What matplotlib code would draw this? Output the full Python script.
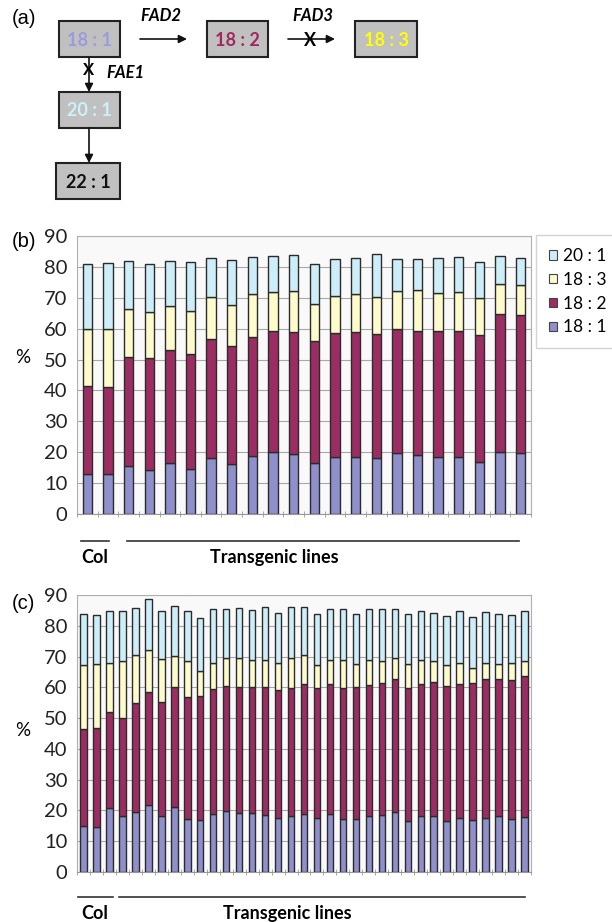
import matplotlib
matplotlib.use('Agg')
import matplotlib.pyplot as plt
from matplotlib.patches import Rectangle, Patch
import numpy as np

# panel (b) values, %
b_181 = [13.1, 12.8, 15.7, 14.4, 16.4, 14.7, 18.2, 16.1, 18.7, 20.2, 19.3,
         16.4, 18.3, 18.3, 18.0, 19.7, 19.1, 18.3, 18.3, 16.7, 20.2, 19.7]
b_182 = [28.3, 28.2, 35.2, 36.2, 36.6, 37.2, 38.3, 38.4, 38.7, 39.0, 39.5,
         39.5, 40.2, 40.5, 40.4, 40.3, 40.3, 40.8, 40.8, 41.4, 44.5, 44.7]
b_183 = [18.6, 19.0, 15.5, 14.7, 14.2, 13.9, 13.6, 13.0, 13.7, 12.8, 13.5,
         12.0, 12.2, 12.5, 11.7, 12.1, 13.2, 12.3, 12.7, 11.7, 9.7, 9.7]
b_201 = [20.9, 21.3, 15.6, 15.6, 14.8, 15.9, 12.9, 14.8, 12.2, 11.6, 11.5,
         13.0, 11.9, 11.7, 14.0, 10.6, 10.0, 11.6, 11.5, 11.7, 9.2, 8.9]

# panel (c) values, %
c_181 = [15.1, 14.6, 20.8, 18.1, 19.5, 21.8, 18.1, 21.1, 17.2, 16.8, 19.0, 19.8,
         19.1, 19.1, 18.5, 17.6, 18.2, 18.8, 17.7, 19.0, 17.2, 17.1, 18.1, 18.5,
         19.6, 16.6, 18.2, 18.2, 16.6, 17.5, 16.9, 17.7, 18.1, 17.2, 17.8]
c_182 = [31.2, 32.1, 31.2, 31.9, 35.4, 36.7, 37.2, 38.9, 39.6, 40.5, 40.3, 40.5,
         40.9, 40.9, 41.5, 41.4, 41.6, 42.2, 42.0, 42.2, 42.6, 42.9, 42.5, 42.8,
         43.1, 43.2, 42.9, 43.5, 43.7, 43.7, 44.6, 45.0, 44.7, 45.3, 45.9]
c_183 = [21.1, 20.8, 15.8, 18.5, 15.6, 13.7, 13.9, 10.2, 11.6, 7.9, 8.6, 9.3,
         9.4, 8.9, 8.9, 8.9, 9.6, 9.5, 7.5, 7.8, 9.2, 7.5, 8.4, 7.1,
         6.7, 7.9, 7.7, 6.7, 6.9, 6.8, 4.7, 5.1, 4.7, 5.3, 4.8]
c_201 = [16.3, 15.9, 17.1, 16.4, 15.4, 16.4, 15.7, 16.1, 16.3, 17.3, 17.6, 15.9,
         16.4, 16.3, 17.2, 16.4, 16.8, 15.7, 16.5, 16.4, 16.4, 16.2, 16.6, 17.0,
         16.0, 16.0, 16.1, 15.7, 15.9, 16.7, 16.6, 16.8, 16.2, 15.7, 16.2]

names = ['18 : 1', '18 : 2', '18 : 3', '20 : 1']
colors = ['#8f8fcb', '#9b2d62', '#fdfbcc', '#cdeef8']

plt.rcParams['font.family'] = ['Lato', 'DejaVu Sans']

W, H = 612, 922
fig = plt.figure(figsize=(W / 100, H / 100), dpi=100)

# overlay in pixel coords for the pathway diagram and the group labels
ov = fig.add_axes([0, 0, 1, 1])
ov.set_xlim(0, W)
ov.set_ylim(H, 0)
ov.axis('off')
ov.patch.set_alpha(0)

# (a) diagram
boxes = [(59, 21, 61, 36, '18 : 1', '#9b9bdc'),
         (207, 21, 61, 36, '18 : 2', '#a3275f'),
         (355, 21, 62, 36, '18 : 3', '#ffff00'),
         (59, 92, 61, 36, '20 : 1', '#cdf0fb'),
         (56, 163, 64, 36, '22 : 1', '#111111')]
for x, y, w, h, t, tc in boxes:
    ov.add_patch(Rectangle((x, y), w, h, facecolor='#c0c0c0', edgecolor='#222222', lw=1.5))
    ov.text(x + w / 2, y + h / 2 + 1, t, color=tc, fontsize=13, fontweight='bold',
            ha='center', va='center')

ap = dict(arrowstyle='-|>', color='#111111', lw=1.2, mutation_scale=12, shrinkA=0, shrinkB=0)
ov.annotate('', xy=(187, 39), xytext=(140, 39), arrowprops=ap)
ov.annotate('', xy=(335, 39), xytext=(288, 39), arrowprops=ap)
ov.annotate('', xy=(89, 92), xytext=(89, 57), arrowprops=ap)
ov.annotate('', xy=(89, 163), xytext=(89, 128), arrowprops=ap)
ov.text(310, 40, 'X', fontsize=13, fontweight='bold', ha='center', va='center')
ov.text(89, 70, 'X', fontsize=12, fontweight='bold', ha='center', va='center')
ov.text(161, 16, 'FAD2', fontsize=12, fontweight='bold', fontstyle='italic', ha='center', va='center')
ov.text(313, 16, 'FAD3', fontsize=12, fontweight='bold', fontstyle='italic', ha='center', va='center')
ov.text(106, 73, 'FAE1', fontsize=12, fontweight='bold', fontstyle='italic', ha='left', va='center')
ov.text(12, 19, '(a)', fontsize=14.5, family='Liberation Sans', ha='left', va='center')


def stacked(ax, data, width):
    x = np.arange(len(data[0]))
    bottom = np.zeros(len(x))
    for vals, col in zip(data, colors):
        ax.bar(x, vals, width, bottom=bottom, color=col, edgecolor='#2b2b2b', lw=1.0, zorder=3)
        bottom = bottom + np.array(vals)
    ax.set_xlim(-0.5, len(x) - 0.5)
    ax.set_ylim(0, 90)
    ax.set_yticks(range(0, 91, 10))
    ax.set_facecolor('#f9f9f9')
    ax.grid(axis='y', color='#a8a8a8', lw=0.8, zorder=0)
    ax.set_xticks([])
    ax.set_xticks(np.arange(-0.5, len(x)), minor=True)
    ax.tick_params(axis='x', which='minor', direction='inout', length=5, color='#999999')
    ax.tick_params(axis='y', length=0, labelsize=14.5, pad=7, colors='#222222')
    for s in ['top', 'right', 'left']:
        ax.spines[s].set_color('#b0b0b0')
    ax.spines['bottom'].set_color('#999999')


axb = fig.add_axes([77 / W, 1 - 514 / H, 454 / W, 278 / H])
stacked(axb, [b_181, b_182, b_183, b_201], 0.45)
axc = fig.add_axes([77 / W, 1 - 872 / H, 454 / W, 277 / H])
stacked(axc, [c_181, c_182, c_183, c_201], 0.5)

ov.set_zorder(5)

# legend for (b)
handles = [Patch(facecolor=c, edgecolor='#444444', lw=0.8, label=n) for n, c in zip(names, colors)]
leg = fig.legend(handles[::-1], names[::-1], loc='upper left',
                 bbox_to_anchor=(536 / W, 1 - 235 / H), fontsize=12.5, frameon=True,
                 fancybox=False, edgecolor='#c8c8c8', handlelength=0.45, handleheight=0.45,
                 handletextpad=0.35, labelspacing=0.45, borderpad=0.75, borderaxespad=0)

# panel labels and % labels
ov.text(12, 241, '(b)', fontsize=14.5, family='Liberation Sans', ha='left', va='center')
ov.text(12, 603, '(c)', fontsize=14.5, family='Liberation Sans', ha='left', va='center')
ov.text(23, 357, '%', fontsize=13.5, ha='center', va='center')
ov.text(23, 730, '%', fontsize=13.5, ha='center', va='center')

# group lines under the bars
ov.plot([81, 109], [541, 541], color='#333333', lw=1.2)
ov.plot([127, 519], [541, 541], color='#333333', lw=1.2)
ov.text(95, 557, 'Col', fontsize=13, fontweight='bold', ha='center', va='center')
ov.text(274, 557, 'Transgenic lines', fontsize=13, fontweight='bold', ha='center', va='center')

ov.plot([78, 113], [897, 897], color='#333333', lw=1.2)
ov.plot([119, 525], [897, 897], color='#333333', lw=1.2)
ov.text(95, 913, 'Col', fontsize=13, fontweight='bold', ha='center', va='center')
ov.text(287, 913, 'Transgenic lines', fontsize=13, fontweight='bold', ha='center', va='center')

plt.savefig('out.png', dpi=100)
